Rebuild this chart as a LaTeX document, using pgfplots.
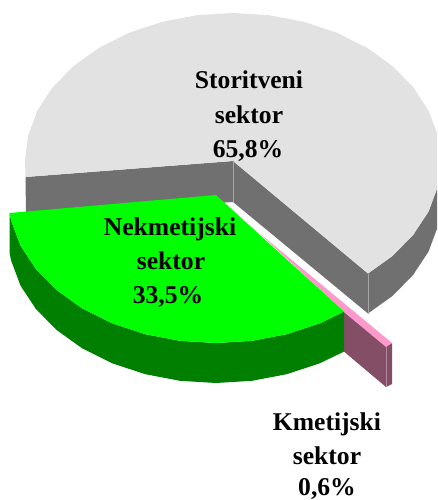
\documentclass[border=0pt]{standalone}
\usepackage{fontspec}
\setmainfont{Liberation Serif}
\usepackage{pgfplots}
\pgfplotsset{compat=1.18}
\definecolor{gtop}{HTML}{E2E2E2}
\definecolor{gwall}{HTML}{707070}
\definecolor{gsep}{HTML}{A6A6A6}
\definecolor{ptop}{HTML}{FF99CC}
\definecolor{pwall}{HTML}{844F66}
\definecolor{psep}{HTML}{B08A9C}
\definecolor{ntop}{HTML}{00FF00}
\definecolor{nwall}{HTML}{007F00}
\tikzset{lab/.style={font=\fontsize{25.6}{26}\selectfont\bfseries,anchor=base,inner sep=0pt,text=black}}
\begin{document}
\begin{tikzpicture}
\useasboundingbox (0,0) rectangle (437pt,500pt);
\begin{axis}[
  at={(0,0)},anchor=south west,
  width=437pt,height=500pt,scale only axis,
  xmin=0,xmax=437,ymin=0,ymax=500,y dir=reverse,
  hide axis,clip=true,
  every axis plot/.append style={no markers,line width=0pt}
]
% Storitveni sektor: walls
\addplot[fill=gwall,draw=none] coordinates {(25.5,177)(233,161)(368,273.5)(392.3,256.1)(413.1,235)(428.5,211.6)(437.8,186.7)(441,161)(441,201)(437.8,226.7)(428.5,251.6)(413.1,275)(392.3,296.1)(368,313.5)(233,202)(26,215)} --cycle;
% top
\addplot[fill=gtop,draw=none] coordinates {(25.5,177)(25,161)(28.2,135.3)(37.5,110.4)(52.9,87)(73.7,65.9)(99.3,47.6)(129,32.8)(161.9,21.9)(196.9,15.2)(233,13)(269.1,15.2)(304.1,21.9)(337,32.8)(366.7,47.6)(392.3,65.9)(413.1,87)(428.5,110.4)(437.8,135.3)(441,161)(437.8,186.7)(428.5,211.6)(413.1,235)(392.3,256.1)(368,273.5)(233,161)} --cycle;
\addplot[gsep,line width=0.6pt] coordinates {(233,161)(233,202)};
\addplot[gsep,line width=0.6pt] coordinates {(368,273.5)(368,313.5)};
% Kmetijski sektor
\addplot[fill=pwall,draw=none] coordinates {(344,312)(386,346)(386,387)(344,351.6)} --cycle;
\addplot[fill=pwall,draw=none] coordinates {(386,346)(392,343)(392,384)(386,387)} --cycle;
\addplot[psep,line width=0.6pt] coordinates {(386,346)(386,387)};
\addplot[fill=ptop,draw=none] coordinates {(258,232)(392,343)(386,347)(344,312)} --cycle;
% Nekmetijski sektor: wall
\addplot[fill=nwall,draw=none] coordinates {(344,311.6)(320,323.2)(287.1,334.1)(252.1,340.8)(216,343)(179.9,340.8)(144.9,334.1)(112,323.2)(82.3,308.4)(56.7,290.1)(35.9,269)(20.5,245.6)(11.2,220.7)(9.5,213)(9.5,253)(11.2,260.7)(20.5,285.6)(35.9,309)(56.7,330.1)(82.3,348.4)(112,363.2)(144.9,374.1)(179.9,380.8)(216,383)(252.1,380.8)(287.1,374.1)(320,363.2)(344,351.6)} --cycle;
% top
\addplot[fill=ntop,draw=none] coordinates {(216,195)(344,311.6)(320,323.2)(287.1,334.1)(252.1,340.8)(216,343)(179.9,340.8)(144.9,334.1)(112,323.2)(82.3,308.4)(56.7,290.1)(35.9,269)(20.5,245.6)(11.2,220.7)(9.5,213)} --cycle;
% labels
\node[lab] at (axis cs:249,89) {Storitveni};
\node[lab] at (axis cs:249,123) {sektor};
\node[lab] at (axis cs:248,157) {65,8\%};
\node[lab] at (axis cs:170,235) {Nekmetijski};
\node[lab] at (axis cs:171,269) {sektor};
\node[lab] at (axis cs:168,303) {33,5\%};
\node[lab] at (axis cs:327,430) {Kmetijski};
\node[lab] at (axis cs:327,464) {sektor};
\node[lab] at (axis cs:327,495) {0,6\%};
\end{axis}
\end{tikzpicture}
\end{document}
